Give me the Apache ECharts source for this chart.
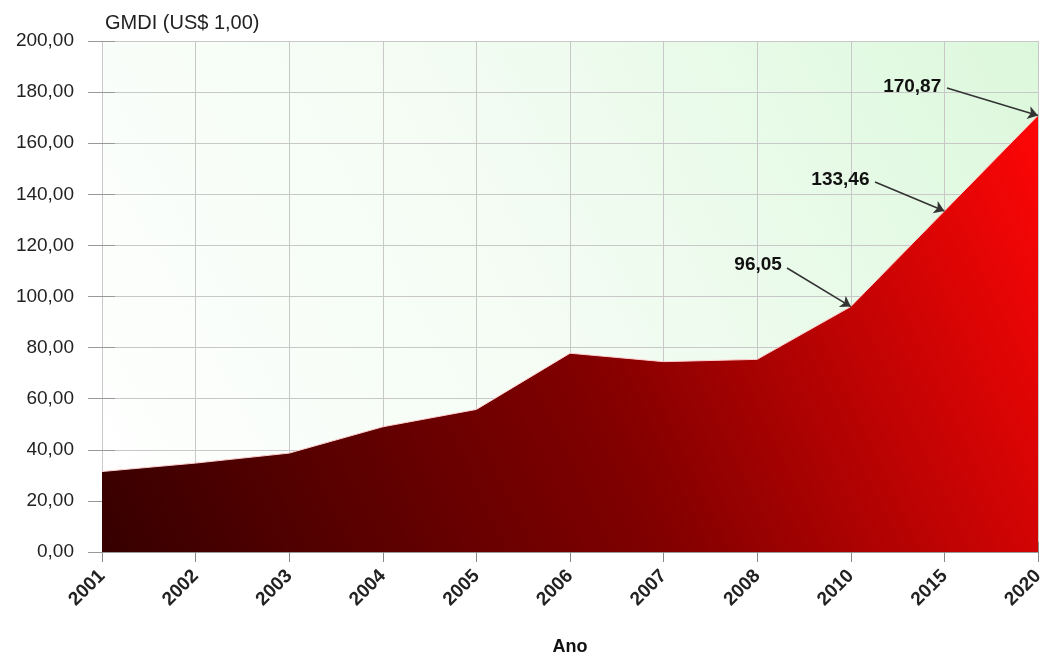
<!DOCTYPE html>
<html>
<head>
<meta charset="utf-8">
<script src="https://cdn.jsdelivr.net/npm/echarts@6/dist/echarts.min.js"></script>
<style>html,body{margin:0;padding:0;background:#fff}#c{width:1044px;height:655px}</style>
</head>
<body>
<div id="c"></div>
<script>
const categories = ['2001','2002','2003','2004','2005','2006','2007','2008','2010','2015','2020'];
const values = [31.5, 34.8, 38.7, 49.0, 55.8, 77.8, 74.5, 75.4, 96.05, 133.46, 170.87];
const annotated = ['2010','2015','2020'];
const yTitle = 'GMDI (US$ 1,00)';
const xTitle = 'Ano';

const fmt = v => v.toFixed(2).replace('.', ',');
const chart = echarts.init(document.getElementById('c'));

// pixel start points of the annotation arrows (where the value labels sit)
const arrowStarts = { '2010': [787, 268], '2015': [875, 182], '2020': [947, 88] };

const markData = annotated.map(cat => {
  const v = values[categories.indexOf(cat)];
  return [
    { x: arrowStarts[cat][0], y: arrowStarts[cat][1], value: fmt(v) },
    { coord: [cat, v] }
  ];
});

const font = 'Liberation Sans, Arial, sans-serif';
chart.setOption({
  animation: false,
  backgroundColor: '#fff',
  grid: {
    left: 102, right: 6, top: 41, bottom: 103,
    containLabel: false, outerBoundsMode: 'none',
    show: true, borderWidth: 0,
    backgroundColor: new echarts.graphic.LinearGradient(0, 1, 1, 0, [
      { offset: 0, color: '#ffffff' },
      { offset: 0.5, color: '#f3fcf3' },
      { offset: 1, color: '#dcf8dc' }
    ])
  },
  xAxis: [{
    type: 'category', data: categories, boundaryGap: false,
    axisLine: { show: true, lineStyle: { color: '#999', width: 1 } },
    axisTick: { show: true, alignWithLabel: true, length: 10, lineStyle: { color: '#888' } },
    axisLabel: { rotate: 45, color: '#222', fontFamily: font, fontSize: 19, fontWeight: 'bold', margin: 21 },
    splitLine: { show: true, lineStyle: { color: '#c8c8c8', width: 1 } },
    name: xTitle, nameLocation: 'middle', nameGap: 86,
    nameTextStyle: { color: '#111', fontFamily: font, fontSize: 18, fontWeight: 'bold' }
  }, {
    type: 'category', data: categories, boundaryGap: false, position: 'bottom',
    axisLine: { show: false },
    axisTick: { show: true, inside: true, length: 10, lineStyle: { color: '#888' } },
    axisLabel: { show: false }, splitLine: { show: false }
  }],
  yAxis: [{
    type: 'value', min: 0, max: 200, interval: 20,
    axisLine: { show: false },
    axisTick: { show: true, length: 14, lineStyle: { color: '#999' } },
    axisLabel: { color: '#222', fontFamily: font, fontSize: 19, margin: 28, formatter: v => fmt(v) },
    splitLine: { show: true, lineStyle: { color: '#c8c8c8', width: 1 } },
    name: yTitle, nameLocation: 'end', nameGap: 8,
    nameTextStyle: { color: '#222', fontFamily: font, fontSize: 20, align: 'left', padding: [0, 0, 0, 3] }
  }, {
    type: 'value', min: 0, max: 200, interval: 20, position: 'left',
    axisLine: { show: false },
    axisTick: { show: true, inside: true, length: 13, lineStyle: { color: '#999' } },
    axisLabel: { show: false }, splitLine: { show: false }
  }],
  series: [{
    type: 'line',
    data: values,
    symbol: 'none',
    lineStyle: { width: 1, color: '#ffd0d0' },
    areaStyle: {
      opacity: 1,
      color: new echarts.graphic.LinearGradient(0, 1, 1, 0, [
        { offset: 0, color: '#360000' },
        { offset: 0.5, color: '#820000' },
        { offset: 1, color: '#ff0606' }
      ])
    },
    markLine: {
      silent: true,
      symbol: ['none', 'arrow'],
      symbolSize: 10,
      lineStyle: { color: '#333', width: 1.6, type: 'solid' },
      label: {
        show: true, position: 'start', distance: 6,
        formatter: p => p.data.value,
        color: '#111', fontFamily: font, fontSize: 19, fontWeight: 'bold'
      },
      data: markData
    }
  }]
});
</script>
</body>
</html>
